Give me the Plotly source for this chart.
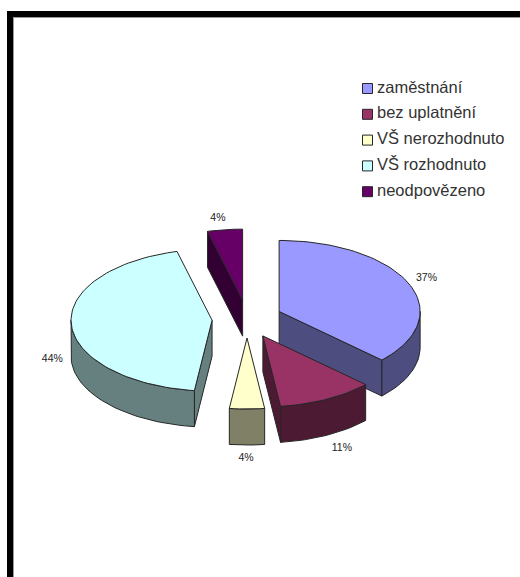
import math
import plotly.graph_objects as go

# Data
categories = ["zaměstnání", "bez uplatnění", "VŠ nerozhodnuto", "VŠ rozhodnuto", "neodpovězeno"]
shares = [37, 11, 4, 44, 4]

# Style
top_colors = ["#9999FF", "#993366", "#FFFFCC", "#CCFFFF", "#660066"]
side_colors = ["#4D4D80", "#4D1A33", "#808066", "#668080", "#330033"]
label_nudges = [(18, -5), (15, 13), (-1, 13), (-19, -1), (-7, -11)]
EDGE = "#262626"
FONT = "Liberation Sans, Arial, sans-serif"

# Projection of the exploded 3-D pie onto the page (pixels)
CX, CY = 247, 319
RX, RY = 141, 71
EX, EY = 35, 19
DEPTH = 36
LEGEND_X, LEGEND_Y, LEGEND_STEP = 367.5, 88.5, 25.8
LEGEND_TEXT_GAP = 9.5


def point(apex, angle, radius=1.0, drop=0):
    t = math.radians(angle)
    return (apex[0] + RX * radius * math.sin(t), apex[1] - RY * radius * math.cos(t) + drop)


def arc(apex, a, b, drop=0, reverse=False):
    n = max(2, int(abs(b - a) / 2))
    pts = [point(apex, a + (b - a) * i / n, 1.0, drop) for i in range(n + 1)]
    return pts[::-1] if reverse else pts


def add_poly(fig, pts, fill, name=None):
    xs = [p[0] for p in pts] + [pts[0][0]]
    ys = [p[1] for p in pts] + [pts[0][1]]
    fig.add_trace(go.Scatter(x=xs, y=ys, mode="lines", fill="toself", fillcolor=fill,
                             line=dict(color=EDGE, width=1), hoverinfo="skip",
                             showlegend=False, name=name))


fig = go.Figure()
start = 0.0
label_x, label_y, label_text = [], [], []
for name, value, top, side, nudge in zip(categories, shares, top_colors, side_colors, label_nudges):
    end = start + value * 3.6
    mid = math.radians((start + end) / 2)
    apex = (CX + EX * math.sin(mid), CY - EY * math.cos(mid))

    # visible cut faces
    if math.sin(math.radians(start)) < -1e-9:
        p = point(apex, start)
        add_poly(fig, [apex, p, (p[0], p[1] + DEPTH), (apex[0], apex[1] + DEPTH)], side)
    if math.sin(math.radians(end)) > 1e-9:
        p = point(apex, end)
        add_poly(fig, [apex, p, (p[0], p[1] + DEPTH), (apex[0], apex[1] + DEPTH)], side)
    # visible rim
    r0, r1 = max(start, 90), min(end, 270)
    if r1 > r0:
        add_poly(fig, arc(apex, r0, r1) + arc(apex, r0, r1, DEPTH, True), side)
    # top face
    add_poly(fig, [apex] + arc(apex, start, end), top, name)

    # data label
    edge = point(apex, (start + end) / 2, 1.0, DEPTH if math.cos(mid) < 0 else 0)
    label_x.append(edge[0] + nudge[0])
    label_y.append(edge[1] + nudge[1])
    label_text.append(f"{value}%")
    start = end

fig.add_trace(go.Scatter(x=label_x, y=label_y, mode="text", text=label_text,
                         textposition="middle center", hoverinfo="skip", showlegend=False,
                         textfont=dict(family=FONT, size=10.5, color="#222222")))

# Key
key_y = [LEGEND_Y + LEGEND_STEP * i for i in range(len(categories))]
fig.add_trace(go.Scatter(
    x=[LEGEND_X] * len(categories), y=key_y, mode="markers",
    marker=dict(symbol="square", size=10, color=top_colors, line=dict(color=EDGE, width=1)),
    hoverinfo="skip", showlegend=False))
fig.add_trace(go.Scatter(
    x=[LEGEND_X + LEGEND_TEXT_GAP] * len(categories), y=key_y, mode="text",
    text=categories, textposition="middle right",
    textfont=dict(family=FONT, size=16.5, color="#333333"),
    hoverinfo="skip", showlegend=False))

frame = [
    dict(x0=7, x1=14, y0=11, y1=577, fillcolor="#9a9a9a"),
    dict(x0=7, x1=520, y0=11, y1=18, fillcolor="#9a9a9a"),
    dict(x0=7, x1=13, y0=11, y1=577, fillcolor="#000000"),
    dict(x0=7, x1=520, y0=11, y1=17, fillcolor="#000000"),
]
fig.update_layout(
    width=520, height=577, margin=dict(l=0, r=0, t=0, b=0),
    paper_bgcolor="white", plot_bgcolor="white", showlegend=False,
    xaxis=dict(range=[0, 520], visible=False, fixedrange=True),
    yaxis=dict(range=[577, 0], visible=False, fixedrange=True),
    shapes=[dict(type="rect", xref="x", yref="y", line=dict(width=0), layer="below", **f) for f in frame],
)
fig.write_html("out.html", config=dict(displayModeBar=False),
               post_script="document.body.style.margin='0';")
